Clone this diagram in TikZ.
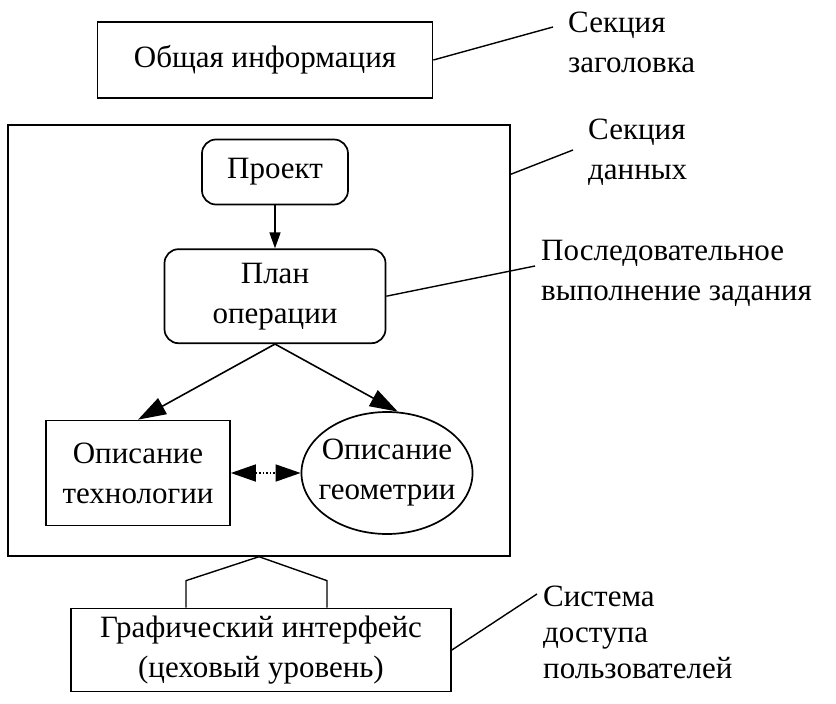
\documentclass[tikz,border=0pt]{standalone}
\usepackage{fontspec}
\setmainfont{Liberation Serif}
\usetikzlibrary{shapes.geometric, arrows.meta, positioning, calc}

\begin{document}
\begin{tikzpicture}[
    x=1pt, y=-1pt,
    font=\fontsize{31}{40}\selectfont,
    block/.style={rectangle, draw, line width=1.7pt, align=center, inner sep=0pt},
    rblock/.style={block, rounded corners=14pt},
    oval/.style={ellipse, draw, line width=1.7pt, align=center, inner sep=-8pt},
    note/.style={anchor=west, align=left, inner sep=0pt},
    flow/.style={-{Triangle[length=28pt, width=18pt]}, line width=1.6pt},
    both/.style={{Triangle[length=25pt, width=17pt]}-{Triangle[length=25pt, width=17pt]}, line width=1.6pt},
    lead/.style={line width=1.4pt}
]
\useasboundingbox (0,0) rectangle (836,704);

\node[block, minimum width=335, minimum height=76] (info) at (265,60) {Общая информация};
\node[block, line width=1.4pt, minimum width=502, minimum height=431] (data) at (259,340.5) {};
\node[rblock, minimum width=146, minimum height=65] (proj) at (275,172) {Проект};
\node[rblock, minimum width=221, minimum height=94, below=43pt of proj] (plan) {План\\операции};
\node[block, minimum width=184, minimum height=105] (tech) at (138,473) {Описание\\технологии};
\node[oval, minimum width=170, minimum height=122] (geom) at (387,473) {Описание\\геометрии};
\node[block, minimum width=380, minimum height=83] (gui) at (261,650) {Графический интерфейс\\(цеховый уровень)};

% Side notes
\node[note] (hdrlbl) at (568,42) {Секция\\заголовка};
\node[note] (datalbl) at (588,152) {Секция\\данных};
\node[note] (seqlbl) at (541,273) {Последовательное\\выполнение задания};
\node[note, font=\fontsize{31}{36}\selectfont] (syslbl) at (543,632) {Система\\доступа\\пользователей};

% Main flow
\draw[flow, -{Triangle[length=16pt, width=11pt]}] (proj) -- (plan);
\draw[flow] (plan.south) -- (tech.north);
\draw[flow] (plan.south) -- (geom.80);
\draw[both, dotted] (tech.east) -- (geom.west);

% Link to the user interface
\coordinate (apex) at (data.south);
\draw[lead] ($(gui.north)+(-75,0)$) -- ++(0,-27) -- (apex) -- ($(gui.north)+(66,-27)$) -- ++(0,27);

% Leader lines
\coordinate (hdrend) at (553,27);
\coordinate (dataend) at (573,150);
\coordinate (seqend) at (535,266);
\coordinate (sysend) at (537,594);
\draw[lead] (info.east) -- (hdrend);
\draw[lead] ($(data.north east)+(0,50)$) -- (dataend);
\draw[lead] (plan.east) -- (seqend);
\draw[lead] (gui.east) -- (sysend);

\end{tikzpicture}
\end{document}
